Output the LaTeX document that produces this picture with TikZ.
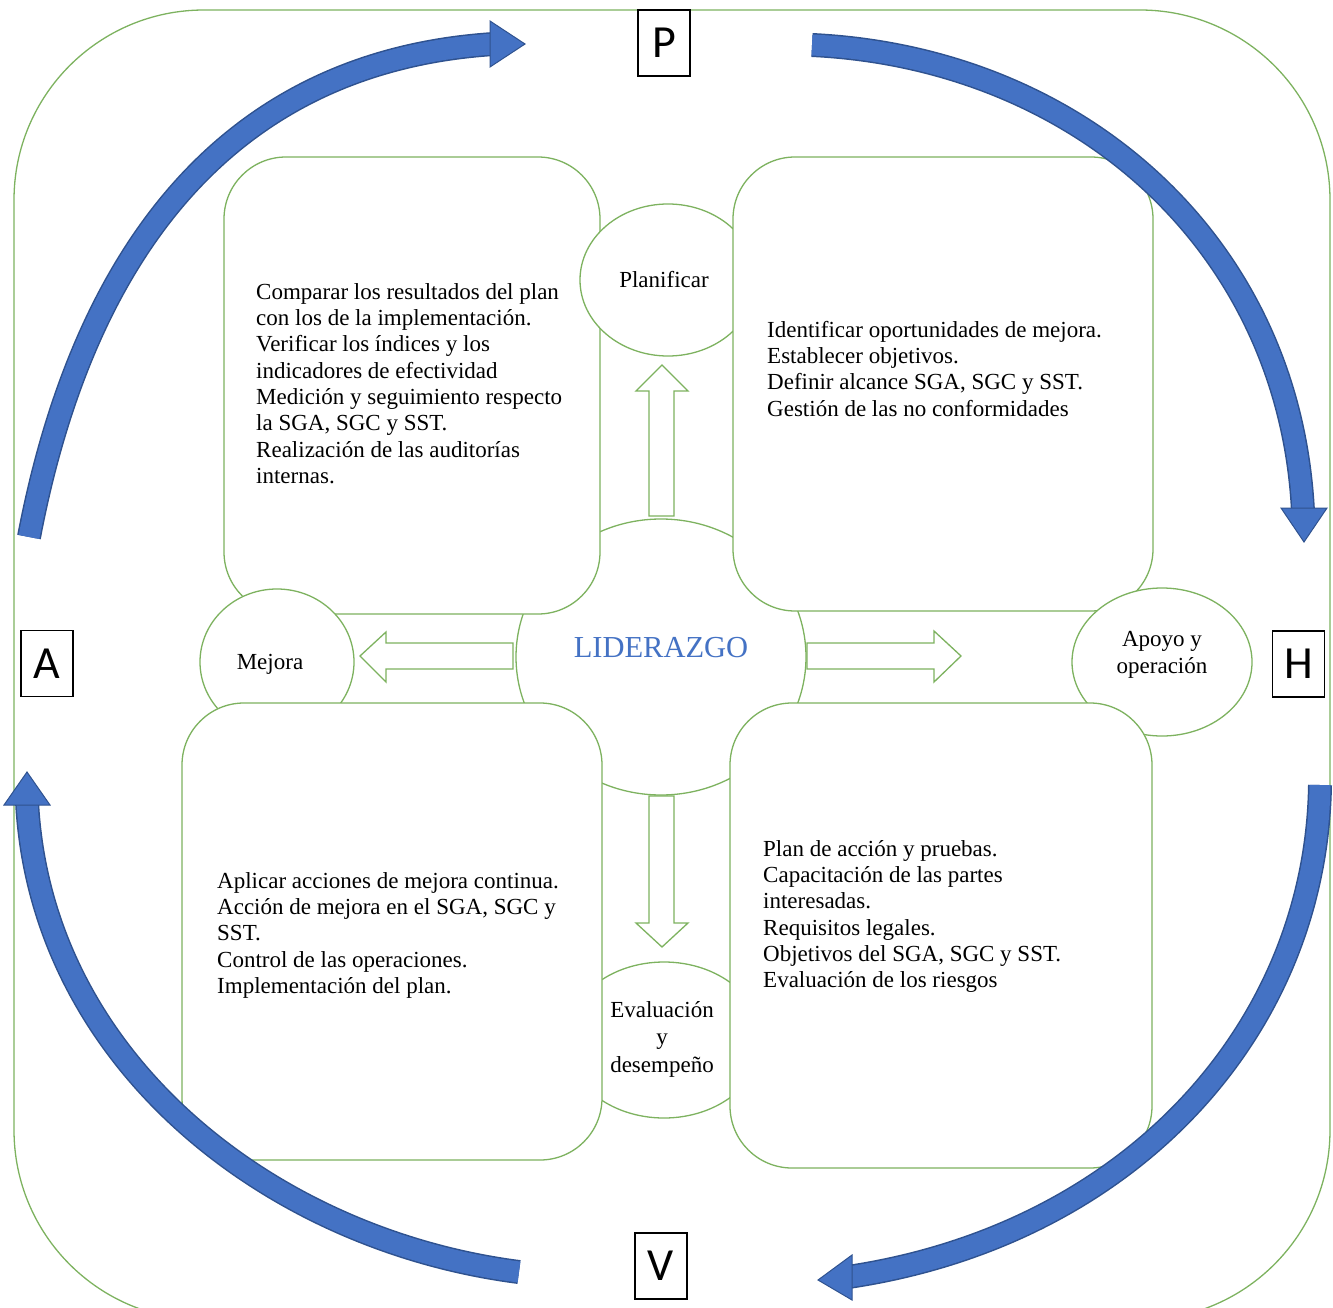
\documentclass[tikz,border=0pt]{standalone}
\usepackage{fontspec}
\setmainfont{Liberation Serif}
\newfontfamily\letterfont{Carlito}
\usetikzlibrary{shapes.geometric}
\definecolor{gline}{RGB}{125,178,95}
\definecolor{afill}{RGB}{68,114,196}
\definecolor{aline}{RGB}{47,82,143}
\definecolor{lblue}{RGB}{68,114,196}
\begin{document}
\begin{tikzpicture}[x=1pt,y=1pt,
  gshape/.style={draw=gline, line width=1.3pt, fill=white},
  gbox/.style={gshape, rounded corners=62pt},
  gell/.style={gshape, ellipse, inner sep=0pt},
  letterbox/.style={draw=black, line width=1.1pt, fill=white, minimum width=52pt, minimum height=66pt, inner sep=0pt, font=\letterfont\fontsize{46}{46}\selectfont},
  boxtext/.style={anchor=north west, inner sep=0pt, align=left, font=\fontsize{23}{26.3}\selectfont},
  lbl/.style={inner sep=0pt, font=\fontsize{23}{27.5}\selectfont},
  hollow/.style={draw=gline, line width=1.3pt, fill=white, line join=miter},
  shaftout/.style={draw=aline, line width=24pt},
  shaftin/.style={draw=afill, line width=21pt},
  headtip/.style={fill=afill, draw=aline, line width=1pt, line join=miter}
]
\useasboundingbox (0,0) rectangle (1333,-1308);
\clip (0,0) rectangle (1333,-1308);
% outer frame
\draw[draw=gline, line width=1.3pt, rounded corners=190pt] (14,-10) rectangle (1330,-1320);
% centre
\node[gell, minimum width=290pt, minimum height=276pt] (lead) at (661,-657) {};
% hollow arrows
\path[hollow] (649,-516) -- (649,-391) -- (636,-391) -- (662,-365) -- (688,-391) -- (674,-391) -- (674,-516) -- cycle;
\path[hollow] (649,-796) -- (674,-796) -- (674,-923) -- (688,-923) -- (662,-947) -- (636,-923) -- (649,-923) -- cycle;
\path[hollow] (513,-643) -- (386,-643) -- (386,-632) -- (360,-656) -- (386,-682) -- (386,-669) -- (513,-669) -- cycle;
\path[hollow] (807,-643) -- (934,-643) -- (934,-631) -- (961,-656) -- (934,-682) -- (934,-669) -- (807,-669) -- cycle;
% boxes and ellipses
\node[gbox, minimum width=376pt, minimum height=457pt] (tl) at (412,-385.5) {};
\node[gell, minimum width=154pt, minimum height=146pt] (mej) at (277,-662) {};
\node[gell, minimum width=176pt, minimum height=152pt] (plan) at (668,-280) {};
\node[gbox, minimum width=420pt, minimum height=454pt] (tr) at (943,-384) {};
\node[gell, minimum width=180pt, minimum height=148pt] (apo) at (1162,-662) {};
\node[gell, minimum width=196pt, minimum height=156pt] (eval) at (664,-1040) {};
\node[gbox, minimum width=422pt, minimum height=465pt] (br) at (941,-935.5) {};
\node[gbox, minimum width=420pt, minimum height=457pt] (bl) at (392,-931.5) {};
% texts
\node[boxtext] (tltext) at (256,-282) {\rule{0pt}{17pt}Comparar los resultados del plan\\con los de la implementación.\\Verificar los índices y los\\indicadores de efectividad\\Medición y seguimiento respecto\\la SGA, SGC y SST.\\Realización de las auditorías\\internas.};
\node[boxtext] (trtext) at (767,-320) {\rule{0pt}{17pt}Identificar oportunidades de mejora.\\Establecer objetivos.\\Definir alcance SGA, SGC y SST.\\Gestión de las no conformidades};
\node[boxtext] (bltext) at (217,-871) {\rule{0pt}{17pt}Aplicar acciones de mejora continua.\\Acción de mejora en el SGA, SGC y\\SST.\\Control de las operaciones.\\Implementación del plan.};
\node[boxtext] (brtext) at (763,-839) {\rule{0pt}{17pt}Plan de acción y pruebas.\\Capacitación de las partes\\interesadas.\\Requisitos legales.\\Objetivos del SGA, SGC y SST.\\Evaluación de los riesgos};
\node[lbl, anchor=base] (plantext) at (664,-287) {Planificar};
\node[lbl, anchor=base] (mejtext) at (270,-669) {Mejora};
\node[lbl, anchor=north, align=center] (apotext) at (1162,-629) {\rule{0pt}{17pt}Apoyo y\\operación};
\node[lbl, anchor=north, align=center] (evaltext) at (662,-1000) {\rule{0pt}{17pt}Evaluación\\y\\desempeño};
\node[inner sep=0pt, anchor=base, text=lblue, font=\fontsize{30.5}{30.5}\selectfont] (leadtext) at (661,-657) {LIDERAZGO};
% letter boxes
\node[letterbox] (P) at (664,-43) {P};
\node[letterbox] (A) at (47,-663.5) {A};
\node[letterbox] (H) at (1298.5,-664) {H};
\node[letterbox] (V) at (661,-1266) {V};
% blue curved arrows
\draw[shaftout] (29,-537) .. controls (80,-270) and (215,-62) .. (494,-44);
\draw[shaftin] (29,-537) .. controls (80,-270) and (215,-62) .. (494,-44);
\path[headtip] (490,-21) -- (525,-44) -- (490,-67) -- cycle;
\draw[shaftout] (812,-45) .. controls (1080,-58) and (1290,-245) .. (1303,-512);
\draw[shaftin] (812,-45) .. controls (1080,-58) and (1290,-245) .. (1303,-512);
\path[headtip] (1281,-508) -- (1304,-542) -- (1327,-508) -- cycle;
\draw[shaftout] (1320,-785) .. controls (1316,-1030) and (1130,-1235) .. (848,-1277);
\draw[shaftin] (1320,-785) .. controls (1316,-1030) and (1130,-1235) .. (848,-1277);
\path[headtip] (852,-1255) -- (818,-1280) -- (852,-1300) -- cycle;
\draw[shaftout] (519,-1272) .. controls (270,-1240) and (40,-1060) .. (27,-801);
\draw[shaftin] (519,-1272) .. controls (270,-1240) and (40,-1060) .. (27,-801);
\path[headtip] (4,-805) -- (27,-772) -- (50,-805) -- cycle;
\end{tikzpicture}
\end{document}
